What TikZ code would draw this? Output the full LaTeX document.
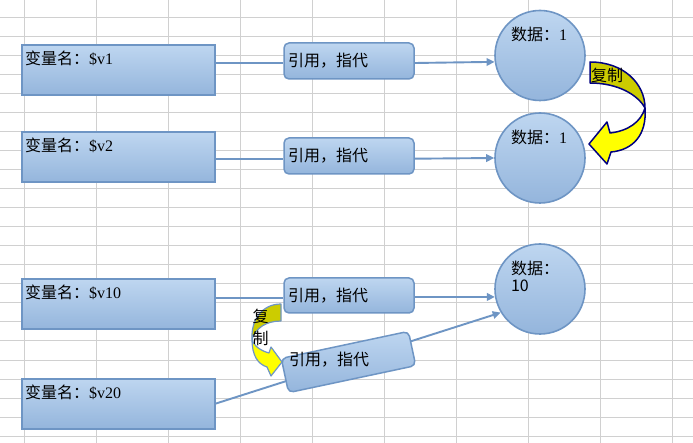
\documentclass[tikz,border=0pt]{standalone}
\usepackage{fontspec}
\setmainfont{Noto Sans CJK SC}
\newfontfamily\serifl{Liberation Serif}
\usetikzlibrary{arrows.meta}

\definecolor{gridgray}{RGB}{208,208,208}
\definecolor{boxtop}{RGB}{190,214,240}
\definecolor{boxbot}{RGB}{148,181,220}
\definecolor{boxline}{RGB}{110,149,196}
\definecolor{copydark}{RGB}{204,204,0}
\definecolor{copylight}{RGB}{255,255,0}
\definecolor{copyline}{RGB}{0,0,128}

\pgfdeclarelayer{bg}
\pgfsetlayers{bg,main}

\begin{document}
\begin{tikzpicture}[x=1pt, y=-1pt,
    font=\fontsize{16}{17}\selectfont,
    gridline/.style={gridgray, line width=1pt},
    varbox/.style={draw=boxline, line width=2pt, top color=boxtop, bottom color=boxbot,
        minimum width=193pt, minimum height=50pt, text width=187pt, align=left,
        inner xsep=3pt, text height=12pt, text depth=23pt},
    refbox/.style={draw=boxline, line width=1.5pt, rounded corners=5pt,
        top color=boxtop, bottom color=boxbot,
        minimum width=130pt, minimum height=36pt, text width=122pt, align=left, inner xsep=4pt},
    databox/.style={circle, draw=boxline, line width=1.6pt, top color=boxtop, bottom color=boxbot,
        minimum size=90pt, inner sep=0pt, text width=58pt, align=left,
        text height=12pt, text depth=41pt},
    link/.style={draw=boxline, line width=1.9pt},
    ptr/.style={link, -{Triangle[length=8pt, width=7.5pt]}},
    copyback/.style={fill=copydark, line width=1.5pt, line join=round},
    copyfront/.style={fill=copylight, line width=1.5pt, line join=round},
]

    \useasboundingbox (0,0) rectangle (693,443);

    \node[varbox] (v1) at (118.5,70) {变量名：{\serifl\$v1}};
    \node[varbox] (v2) at (118.5,157.5) {变量名：{\serifl\$v2}};
    \node[varbox] (v10) at (118.5,304.5) {变量名：{\serifl\$v10}};
    \node[varbox] (v20) at (118.5,403.5) {变量名：{\serifl\$v20}};

    \node[refbox] (ref1) at (349,61) {引用，指代};
    \node[refbox] (ref2) at (349,156) {引用，指代};
    \node[refbox, minimum height=35pt] (ref3) at (349,295.5) {引用，指代};
    \node[refbox, minimum height=35pt, rotate=12] (ref4) at (348.5,362) {};
    \node[anchor=west, inner sep=0pt] (ref4text) at (289,360) {引用，指代};

    \node[databox] (d1) at (540,55.5) {数据：{\serifl 1}};
    \node[databox] (d2) at (540,158) {数据：{\serifl 1}};
    \node[databox] (d3) at (540,289) {数据：\\10};

    \coordinate (r1in) at ([yshift=-2pt]ref1.west);
    \coordinate (r2in) at ([yshift=-2.7pt]ref2.west);
    \coordinate (r3in) at ([yshift=-2.2pt]ref3.west);

    \begin{pgfonlayer}{bg}
        \fill[white] (0,0) rectangle (693,443);
        \foreach \gx in {24,96,...,672}
            \draw[gridline] (\gx,0) -- (\gx,443);
        \foreach \gy in {18,37,...,436}
            \draw[gridline] (0,\gy) -- (693,\gy);

        \draw[link] (v1.east |- r1in) -- (r1in);
        \draw[ptr] ([yshift=-2pt]ref1.east) -- (d1.188);

        \draw[link] (v2.east |- r2in) -- (r2in);
        \draw[ptr] ([yshift=-2.7pt]ref2.east) -- (d2.west);

        \draw[link] (v10.east |- r3in) -- (r3in);
        \draw[ptr] ([yshift=-1.5pt]ref3.east) -- (d3.190);

        \draw[ptr] (v20.east) -- (d3.211);
    \end{pgfonlayer}

    \filldraw[copyline, copyback]
        (590,62) .. controls (624,62) and (645,84) .. (645,108)
        .. controls (638,95) and (618,83) .. (590,83) -- cycle;
    \filldraw[copyline, copyfront]
        (645,108) .. controls (647,135) and (633,150) .. (611,152)
        -- (607,164) -- (589,144) -- (607,122) -- (610,133)
        .. controls (628,131) and (641,122) .. (645,108) -- cycle;
    \node[anchor=west, inner sep=0pt] (copy1) at (591,75.5) {复制};

    \filldraw[boxline, copyback, line width=1.2pt]
        (281,304) .. controls (262,304) and (251,320) .. (252,339)
        .. controls (256,328) and (266,321) .. (281,321) -- cycle;
    \filldraw[boxline, copyfront, line width=1.2pt]
        (252,339) .. controls (252,356) and (258,364) .. (267,367)
        -- (271,376) -- (282,362) -- (271,347) -- (269,353)
        .. controls (262,351) and (254,347) .. (252,339) -- cycle;
    \node[align=center, inner sep=0pt, font=\fontsize{16}{22}\selectfont] (copy2) at (260.5,327) {复\\制};

\end{tikzpicture}
\end{document}
